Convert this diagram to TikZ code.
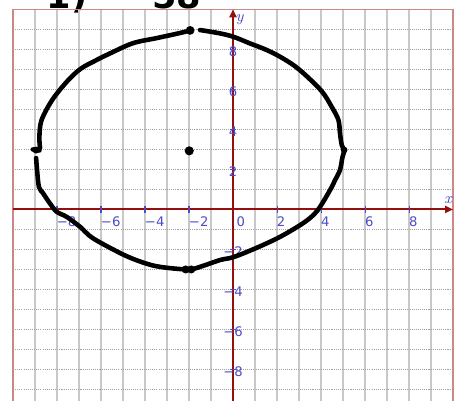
\documentclass[tikz,border=0pt]{standalone}
\usepackage{fontspec}
\newfontfamily\tickfont{DejaVu Sans}
\usetikzlibrary{arrows.meta}
\definecolor{framered}{RGB}{205,135,135}
\definecolor{axisred}{RGB}{150,15,15}
\definecolor{tickblue}{RGB}{75,75,200}
\definecolor{gridgray}{RGB}{200,200,200}
\definecolor{dotgray}{RGB}{160,160,160}

\begin{document}
\begin{tikzpicture}[x=0.44cm, y=0.4cm,
    vline/.style={gridgray, line width=0.7pt},
    hline/.style={dotgray, line width=0.6pt, dash pattern=on 0.6pt off 0.6pt},
    frameline/.style={framered, line width=0.9pt},
    axisline/.style={axisred, line width=1.1pt, -{Triangle[length=4.5pt, width=4pt]}},
    tickmark/.style={tickblue, line width=0.6pt},
    ticklabel/.style={tickblue, font=\tickfont\fontsize{7.5}{9}\selectfont, inner sep=0.4pt},
    axislabel/.style={tickblue, font=\itshape\fontsize{9}{10}\selectfont, inner sep=0pt},
    pen/.style={black, line width=2.6pt, line cap=round, line join=round},
    blob/.style={black, fill=black},
    handtext/.style={font=\tickfont\bfseries\fontsize{20}{22}\selectfont, inner sep=0pt}]
  \useasboundingbox (-10.59,-9.53) rectangle (10.36,10.47);
  \clip (-10.59,-9.53) rectangle (10.36,10.47);

  % cut-off writing above the grid
  \node[handtext, anchor=base] (partA) at (-7.55,10.05) {1)};
  \node[handtext, anchor=base] (partB) at (-2.55,10.05) {58};

  % grid
  \foreach \i in {-10,...,10} \draw[vline] (\i,-9.6) -- (\i,10);
  \foreach \j in {-9,...,9} \draw[hline] (-10,\j) -- (10,\j);
  \draw[frameline] (-10,-9.6) -- (-10,10) -- (10,10) -- (10,-9.6);

  % axes
  \draw[axisline] (-10,0) -- (10,0);
  \draw[axisline] (0,-9.6) -- (0,10);
  \node[axislabel] (xlab) at (9.77,0.47) {x};
  \node[axislabel] (ylab) at (0.3,9.47) {y};

  \foreach \k in {-8,-6,-4,-2,2,4,6,8} {
    \draw[tickmark] (\k,-0.17) -- (\k,0.17);
    \draw[tickmark] (-0.15,\k) -- (0.15,\k);
    \node[ticklabel, anchor=north west] (xt\k) at (\k-0.05,-0.33) {\ifnum\k<0 −\number-\k\else\k\fi};
    \node[ticklabel] (yt\k) at (0,\k-0.12) {\ifnum\k<0 −\number-\k\else\k\fi};
  }
  \node[ticklabel, anchor=north west] (xt0) at (0.12,-0.33) {0};

  % the ellipse, drawn by hand
  \draw[pen] plot[smooth, tension=0.55] coordinates {(-1.5,8.97) (-0.59,8.8) (0.02,8.63)
    (0.77,8.3) (1.53,7.97) (2.27,7.55) (3.0,7.0) (4.0,5.95) (4.5,5.1) (4.79,4.47)
    (4.86,3.82) (4.94,3.22) (5.05,2.95) (4.97,2.6) (4.86,1.97) (4.64,1.47) (4.41,0.97)
    (3.95,0.12) (3.64,-0.29) (3.18,-0.69) (2.45,-1.18) (1.85,-1.53) (0.9,-2.0) (0,-2.39)
    (-0.59,-2.53) (-1.5,-2.87) (-2.05,-3.0) (-3.32,-2.87) (-4.1,-2.65) (-5.0,-2.25)
    (-6.35,-1.45) (-6.95,-0.87) (-7.56,-0.37) (-8.01,-0.12) (-8.32,0.3) (-8.64,0.82)
    (-8.82,1.12) (-8.9,1.9) (-8.95,2.57)};
  \draw[pen] plot[smooth, tension=0.55] coordinates {(-8.77,3.07) (-8.8,3.63) (-8.7,4.47)
    (-8.2,5.5) (-7.5,6.45) (-6.9,7.05) (-6.2,7.47) (-5.59,7.8) (-4.55,8.31) (-3.45,8.57)
    (-2.41,8.82) (-1.95,8.95)};
  \draw[pen] (-9.1,3.0) -- (-8.8,2.95);

  % marked points
  \fill[blob] (-1.95,8.95) circle[radius=2.5pt];
  \fill[blob] (5.05,2.97) circle[radius=1.9pt];
  \fill[blob] (-2.15,-3.0) circle[radius=2.3pt];
  \fill[blob] (-1.9,-3.0) circle[radius=2.3pt];
  \fill[blob] (-8.95,2.97) circle[radius=2pt];
  \fill[blob] (-1.99,2.93) circle[radius=2.6pt];
\end{tikzpicture}
\end{document}
